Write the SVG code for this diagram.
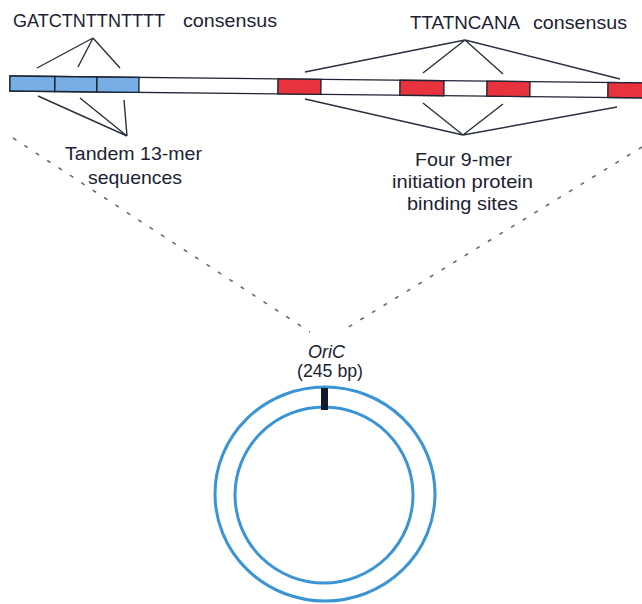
<svg xmlns="http://www.w3.org/2000/svg" width="642" height="604" viewBox="0 0 642 604">
<style>
.t{font-family:"Liberation Sans","DejaVu Sans",sans-serif;font-size:19px;fill:#1c2233}
.ln{stroke:#2a3040;stroke-width:1.4;fill:none}
.seg{stroke:#1e2433;stroke-width:1.4}
.blue{fill:#77aee6}
.red{fill:#e8333f}
.white{fill:#ffffff}
.dash{stroke:#6a6a6a;stroke-width:1.6;stroke-dasharray:4 9.6;fill:none}
.ring{stroke:#3b94d4;stroke-width:3;fill:none}
</style>
<rect width="642" height="604" fill="#ffffff"/>
<g id="label-13mer-consensus">
<text class="t" x="13" y="27" textLength="152" lengthAdjust="spacingAndGlyphs">GATCTNTTNTTTT</text>
<text class="t" x="183" y="27" textLength="94" lengthAdjust="spacingAndGlyphs">consensus</text>
</g>
<g id="label-9mer-consensus">
<text class="t" x="410" y="29" textLength="110" lengthAdjust="spacingAndGlyphs">TTATNCANA</text>
<text class="t" x="533" y="29" textLength="94" lengthAdjust="spacingAndGlyphs">consensus</text>
</g>
<g id="oric-bar" transform="rotate(0.62 10 76)">
<rect class="seg white" x="10" y="76" width="640" height="15"/>
<rect class="seg blue" x="10" y="76" width="45" height="15"/>
<rect class="seg blue" x="55" y="76" width="42" height="15"/>
<rect class="seg blue" x="97" y="76" width="42" height="15"/>
<rect class="seg red" x="278" y="76" width="43" height="15"/>
<rect class="seg red" x="400" y="76" width="44" height="15"/>
<rect class="seg red" x="487" y="76" width="43" height="15"/>
<rect class="seg red" x="608" y="76" width="42" height="15"/>
</g>
<g id="label-tandem">
<text class="t" x="65" y="160" textLength="137" lengthAdjust="spacingAndGlyphs">Tandem 13-mer</text>
<text class="t" x="88" y="184" textLength="94" lengthAdjust="spacingAndGlyphs">sequences</text>
</g>
<g id="label-four9mer">
<text class="t" x="415" y="166" textLength="97" lengthAdjust="spacingAndGlyphs">Four 9-mer</text>
<text class="t" x="392" y="188" textLength="141" lengthAdjust="spacingAndGlyphs">initiation protein</text>
<text class="t" x="407" y="210" textLength="111" lengthAdjust="spacingAndGlyphs">binding sites</text>
</g>
<g id="label-oric">
<text class="t" x="308" y="358" textLength="37" lengthAdjust="spacingAndGlyphs" font-style="italic">OriC</text>
<text class="t" x="297" y="377" textLength="66" lengthAdjust="spacingAndGlyphs">(245 bp)</text>
</g>
<g id="plasmid">
<ellipse class="ring" cx="325" cy="494" rx="110" ry="107"/>
<ellipse class="ring" cx="324" cy="495" rx="89" ry="88"/>
<rect x="321" y="388" width="7" height="22" fill="#141a2e"/>
</g>
<g id="connectors">
<path class="ln" d="M93 38 L37 68 M93 38 L78 67 M93 38 L120 68"/>
<path class="ln" d="M38 96 L127 136 M80 98 L127 136 M124 100 L127 136"/>
<path class="ln" d="M465 40 L305 72 M465 40 L423 73 M465 40 L503 74 M465 40 L620 79"/>
<path class="ln" d="M305 99 L463 135 M423 103 L463 135 M503 104 L463 135 M617 107 L463 135"/>
<path class="dash" d="M13 138 L310 332"/>
<path class="dash" d="M642 147 L347 328"/>
</g>
</svg>
